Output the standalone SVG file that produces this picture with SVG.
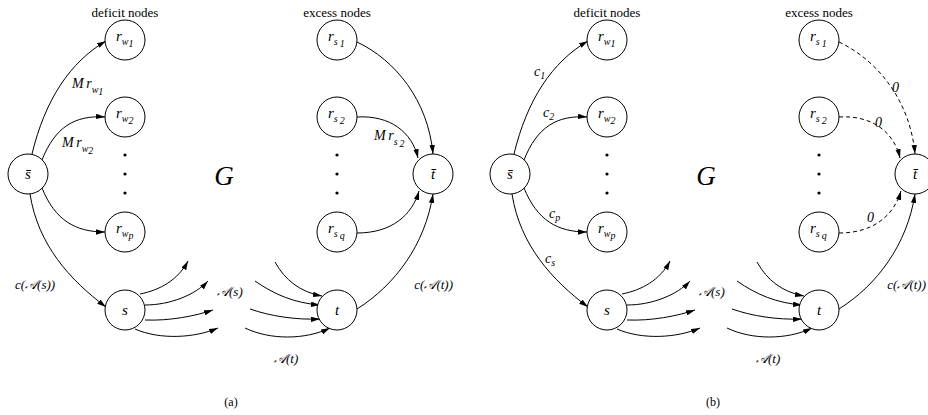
<svg xmlns="http://www.w3.org/2000/svg" width="928" height="415" viewBox="0 0 928 415">
  <defs>
    <marker id="arr" viewBox="0 0 10 6" refX="10" refY="3" markerWidth="9" markerHeight="5.4" markerUnits="userSpaceOnUse" orient="auto">
      <path d="M0,0 L10,3 L0,6 Z" fill="#000"/>
    </marker>
    <style>
      .node circle { fill: #fff; stroke: #000; stroke-width: 1; }
      .edge { fill: none; stroke: #000; stroke-width: 1; marker-end: url(#arr); }
      .dash { stroke-dasharray: 4 3; }
      text { font-family: "Liberation Serif", "Times New Roman", "DejaVu Serif", serif; fill: #000; }
      .nl { font-size: 15px; font-style: italic; }
      .sub { font-size: 10px; }
      .el { font-size: 14px; font-style: italic; }
      .cl { font-size: 13px; font-style: italic; }
      .hd { font-size: 13px; text-anchor: middle; }
      .big { font-size: 27px; font-style: italic; text-anchor: middle; }
      .cap { font-size: 12px; text-anchor: middle; }
      .dot { fill: #000; }
    </style>
  </defs>

  <!-- ===== panel (a) ===== -->
  <g id="panel-a">
    <g id="edges-a">
      <path class="edge" d="M32 154 C45 100 70 62 106 41"/>
      <path class="edge" d="M42 160 C55 127 75 115 105 117"/>
      <path class="edge" d="M42 188 C55 220 75 232 105 232"/>
      <path class="edge" d="M30 194 C38 245 70 280 106 307"/>
      <path class="edge" d="M357 42 C395 60 428 100 433 154"/>
      <path class="edge" d="M357 117 C390 115 412 132 418 158"/>
      <path class="edge" d="M357 233 C392 233 412 215 419 191"/>
      <path class="edge" d="M357 309 C395 285 425 245 433 194"/>
      <path class="edge" d="M140 294 C160 290 178 280 188 261"/>
      <path class="edge" d="M145 305 C170 305 195 295 208 281"/>
      <path class="edge" d="M145 320 C170 321 195 316 213 310"/>
      <path class="edge" d="M135 329 C160 340 195 338 218 328"/>
      <path class="edge" d="M275 262 C285 280 300 292 322 296"/>
      <path class="edge" d="M255 281 C275 295 295 303 320 305"/>
      <path class="edge" d="M250 309 C270 316 295 320 320 319"/>
      <path class="edge" d="M245 328 C270 340 305 340 330 328"/>
    </g>

    <text class="hd" x="125" y="17">deficit nodes</text>
    <text class="hd" x="337" y="17">excess nodes</text>
    <text class="big" x="224" y="185">G</text>

    <g id="a-sbar" class="node"><circle cx="28" cy="174" r="20"/><text class="nl" x="28" y="179" text-anchor="middle">s̄</text></g>
    <g id="a-rw1" class="node"><circle cx="125" cy="40" r="20"/><text class="nl" x="116" y="41">r<tspan class="sub" dy="4">w</tspan><tspan class="sub" font-size="8" dy="2">1</tspan></text></g>
    <g id="a-rw2" class="node"><circle cx="125" cy="117" r="20"/><text class="nl" x="116" y="118">r<tspan class="sub" dy="4">w</tspan><tspan class="sub" font-size="8" dy="2">2</tspan></text></g>
    <g id="a-rwp" class="node"><circle cx="125" cy="232" r="20"/><text class="nl" x="116" y="233">r<tspan class="sub" dy="4">w</tspan><tspan class="sub" font-size="8" dy="2">p</tspan></text></g>
    <g id="a-s" class="node"><circle cx="125" cy="310" r="20"/><text class="nl" x="125" y="315" text-anchor="middle">s</text></g>
    <g id="a-rs1" class="node"><circle cx="337" cy="40" r="20"/><text class="nl" x="328" y="41">r<tspan class="sub" dy="4">s</tspan><tspan class="sub" font-size="8" dx="2" dy="2">1</tspan></text></g>
    <g id="a-rs2" class="node"><circle cx="337" cy="117" r="20"/><text class="nl" x="328" y="118">r<tspan class="sub" dy="4">s</tspan><tspan class="sub" font-size="8" dx="2" dy="2">2</tspan></text></g>
    <g id="a-rsq" class="node"><circle cx="337" cy="232" r="20"/><text class="nl" x="328" y="233">r<tspan class="sub" dy="4">s</tspan><tspan class="sub" font-size="8" dx="2" dy="2">q</tspan></text></g>
    <g id="a-t" class="node"><circle cx="337" cy="310" r="20"/><text class="nl" x="337" y="315" text-anchor="middle">t</text></g>
    <g id="a-tbar" class="node"><circle cx="433" cy="174" r="20"/><text class="nl" x="433" y="179" text-anchor="middle">t̄</text></g>

    <circle class="dot" cx="125" cy="155" r="1.6"/><circle class="dot" cx="125" cy="174" r="1.6"/><circle class="dot" cx="125" cy="193" r="1.6"/>
    <circle class="dot" cx="337" cy="155" r="1.6"/><circle class="dot" cx="337" cy="174" r="1.6"/><circle class="dot" cx="337" cy="193" r="1.6"/>

    <text class="el" x="72" y="88">M <tspan dx="-1">r</tspan><tspan class="sub" dy="5">w</tspan><tspan class="sub" font-size="8" dy="2">1</tspan></text>
    <text class="el" x="62" y="147">M <tspan dx="-1">r</tspan><tspan class="sub" dy="5">w</tspan><tspan class="sub" font-size="8" dy="2">2</tspan></text>
    <text class="el" x="374" y="140">M <tspan dx="-1">r</tspan><tspan class="sub" dy="5">s</tspan><tspan class="sub" font-size="8" dx="2" dy="2">2</tspan></text>
    <text class="cl" x="15" y="289">c(𝒜(s))</text>
    <text class="cl" x="217" y="296">𝒜(s)</text>
    <text class="cl" x="274" y="363">𝒜(t)</text>
    <text class="cl" x="453" y="289" text-anchor="end">c(𝒜(t))</text>
    <text class="cap" x="231" y="406">(a)</text>
  </g>

  <!-- ===== panel (b) ===== -->
  <g id="panel-b" transform="translate(482,0)">
    <g id="edges-b">
      <path class="edge" d="M32 154 C45 100 70 62 106 41"/>
      <path class="edge" d="M42 160 C55 127 75 115 105 117"/>
      <path class="edge" d="M42 188 C55 220 75 232 105 232"/>
      <path class="edge" d="M30 194 C38 245 70 280 106 307"/>
      <path class="edge dash" d="M357 42 C395 60 428 100 433 154"/>
      <path class="edge dash" d="M357 117 C390 115 412 132 418 158"/>
      <path class="edge dash" d="M357 233 C392 233 412 215 419 191"/>
      <path class="edge" d="M357 309 C395 285 425 245 433 194"/>
      <path class="edge" d="M140 294 C160 290 178 280 188 261"/>
      <path class="edge" d="M145 305 C170 305 195 295 208 281"/>
      <path class="edge" d="M145 320 C170 321 195 316 213 310"/>
      <path class="edge" d="M135 329 C160 340 195 338 218 328"/>
      <path class="edge" d="M275 262 C285 280 300 292 322 296"/>
      <path class="edge" d="M255 281 C275 295 295 303 320 305"/>
      <path class="edge" d="M250 309 C270 316 295 320 320 319"/>
      <path class="edge" d="M245 328 C270 340 305 340 330 328"/>
    </g>

    <text class="hd" x="125" y="17">deficit nodes</text>
    <text class="hd" x="337" y="17">excess nodes</text>
    <text class="big" x="224" y="185">G</text>

    <g id="b-sbar" class="node"><circle cx="28" cy="174" r="20"/><text class="nl" x="28" y="179" text-anchor="middle">s̄</text></g>
    <g id="b-rw1" class="node"><circle cx="125" cy="40" r="20"/><text class="nl" x="116" y="41">r<tspan class="sub" dy="4">w</tspan><tspan class="sub" font-size="8" dy="2">1</tspan></text></g>
    <g id="b-rw2" class="node"><circle cx="125" cy="117" r="20"/><text class="nl" x="116" y="118">r<tspan class="sub" dy="4">w</tspan><tspan class="sub" font-size="8" dy="2">2</tspan></text></g>
    <g id="b-rwp" class="node"><circle cx="125" cy="232" r="20"/><text class="nl" x="116" y="233">r<tspan class="sub" dy="4">w</tspan><tspan class="sub" font-size="8" dy="2">p</tspan></text></g>
    <g id="b-s" class="node"><circle cx="125" cy="310" r="20"/><text class="nl" x="125" y="315" text-anchor="middle">s</text></g>
    <g id="b-rs1" class="node"><circle cx="337" cy="40" r="20"/><text class="nl" x="328" y="41">r<tspan class="sub" dy="4">s</tspan><tspan class="sub" font-size="8" dx="2" dy="2">1</tspan></text></g>
    <g id="b-rs2" class="node"><circle cx="337" cy="117" r="20"/><text class="nl" x="328" y="118">r<tspan class="sub" dy="4">s</tspan><tspan class="sub" font-size="8" dx="2" dy="2">2</tspan></text></g>
    <g id="b-rsq" class="node"><circle cx="337" cy="232" r="20"/><text class="nl" x="328" y="233">r<tspan class="sub" dy="4">s</tspan><tspan class="sub" font-size="8" dx="2" dy="2">q</tspan></text></g>
    <g id="b-t" class="node"><circle cx="337" cy="310" r="20"/><text class="nl" x="337" y="315" text-anchor="middle">t</text></g>
    <g id="b-tbar" class="node"><circle cx="433" cy="174" r="20"/><text class="nl" x="433" y="179" text-anchor="middle">t̄</text></g>

    <circle class="dot" cx="125" cy="155" r="1.6"/><circle class="dot" cx="125" cy="174" r="1.6"/><circle class="dot" cx="125" cy="193" r="1.6"/>
    <circle class="dot" cx="337" cy="155" r="1.6"/><circle class="dot" cx="337" cy="174" r="1.6"/><circle class="dot" cx="337" cy="193" r="1.6"/>

    <text class="el" x="52" y="76">c<tspan class="sub" dy="3">1</tspan></text>
    <text class="el" x="61" y="117">c<tspan class="sub" dy="3">2</tspan></text>
    <text class="el" x="67" y="218">c<tspan class="sub" dy="3">p</tspan></text>
    <text class="el" x="63" y="263">c<tspan class="sub" dy="3">s</tspan></text>
    <text class="el" x="410" y="92">0</text>
    <text class="el" x="393" y="127">0</text>
    <text class="el" x="385" y="222">0</text>
    <text class="cl" x="217" y="296">𝒜(s)</text>
    <text class="cl" x="274" y="363">𝒜(t)</text>
    <text class="cl" x="444" y="289" text-anchor="end">c(𝒜(t))</text>
    <text class="cap" x="231" y="406">(b)</text>
  </g>
</svg>
